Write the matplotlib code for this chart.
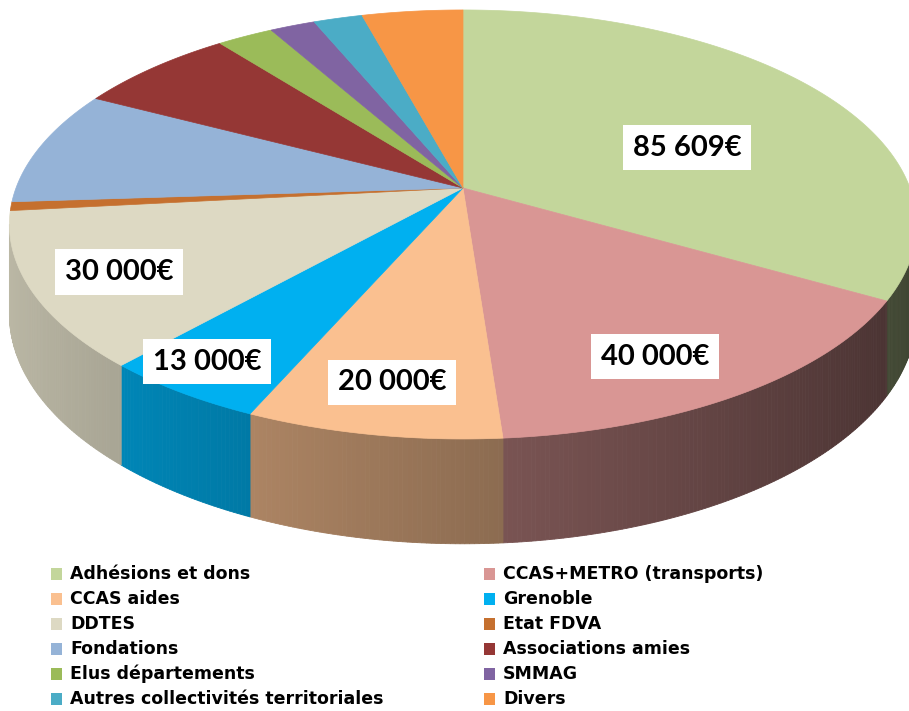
import numpy as np
import matplotlib
matplotlib.use("Agg")
import matplotlib.pyplot as plt
from matplotlib.patches import Polygon, Rectangle
from matplotlib.colors import to_rgb

# ---------------- data ----------------
categories = ["Adhésions et dons", "CCAS+METRO (transports)", "CCAS aides", "Grenoble",
              "DDTES", "Etat FDVA", "Fondations", "Associations amies",
              "Elus départements", "SMMAG", "Autres collectivités territoriales", "Divers"]
values = [85609, 40000, 20000, 13000, 30000, 1700, 22400, 17400, 6100, 4900, 5300, 10900]
show_label = [True, True, True, True, True, False, False, False, False, False, False, False]
colors = ["#C3D69B", "#D99694", "#FAC090", "#00B0F0", "#DDD9C3", "#C5702F",
          "#95B3D7", "#953735", "#9BBB59", "#8064A2", "#4BACC6", "#F79646"]

# ---------------- layout (pixel space) ----------------
W, Hfig = 909, 711
X0, Y0 = 463, 188        # projected pie centre
A, B = 447, 208.3        # horizontal / vertical radius
K = 0.17                 # perspective factor
DEPTH = 87               # wall height
label_r = [0.56, 0.80, 0.81, 0.88, 0.81]
label_dtheta = [-8, -4, 0, -2, 0]


def proj(theta_deg, r=1.0, down=0.0):
    t = np.radians(theta_deg)
    u, v = r * np.cos(t), r * np.sin(t)
    d = 1 + K * v
    return X0 + A * u / d, Y0 + (-B * v + down) / d


fig = plt.figure(figsize=(W / 100, Hfig / 100), dpi=100)
ax = fig.add_axes([0, 0, 1, 1])
ax.set_xlim(0, W)
ax.set_ylim(Hfig, 0)
ax.axis("off")

total = float(sum(values))
sweeps = [360.0 * v / total for v in values]
starts = 90.0 - np.concatenate([[0], np.cumsum(sweeps)[:-1]])
ends = starts - np.array(sweeps)


def shade(theta):
    return 0.58 + 0.27 * np.cos(np.radians(theta + 180))


# visible wall range (silhouette points of the perspective ellipse)
edge = np.degrees(np.arcsin(K))
vis_hi, vis_lo = -edge, -180.0 + edge

for s, e, c in zip(starts, ends, colors):
    hi, lo = min(s, vis_hi), max(e, vis_lo)
    if hi <= lo:
        continue
    n = max(2, int((hi - lo) / 0.5) + 1)
    th = np.linspace(hi, lo, n)
    base = np.array(to_rgb(c))
    for a0, a1 in zip(th[:-1], th[1:]):
        am = 0.5 * (a0 + a1)
        col = np.clip(base * shade(am), 0, 1)
        x0, y0 = proj(a0)
        x1, y1 = proj(a1)
        x2, y2 = proj(a1, down=DEPTH)
        x3, y3 = proj(a0, down=DEPTH)
        ax.add_patch(Polygon([(x0, y0), (x1, y1), (x2, y2), (x3, y3)], closed=True,
                             facecolor=col, edgecolor=col, linewidth=0.6))

# top faces
for s, e, c in zip(starts, ends, colors):
    n = max(3, int((s - e) / 0.5) + 2)
    th = np.linspace(s, e, n)
    xs, ys = proj(th)
    pts = [(X0, Y0)] + list(zip(xs, ys))
    ax.add_patch(Polygon(pts, closed=True, facecolor=c, edgecolor=c, linewidth=0.5))

# value labels
li = 0
for i, (s, e, v) in enumerate(zip(starts, ends, values)):
    if not show_label[i]:
        continue
    mid = 0.5 * (s + e) + label_dtheta[li]
    lx, ly = proj(mid, r=label_r[li])
    txt = f"{v:,}".replace(",", " ") + "€"
    ax.text(lx, ly + 2, txt, ha="center", va="center", fontsize=21, fontweight="bold",
            family=["Lato", "DejaVu Sans"], color="black",
            bbox=dict(boxstyle="square,pad=0.33", facecolor="white", edgecolor="none"))
    li += 1

# legend (two columns, row-wise)
col_x = [51, 484]
row_y0, row_dy = 574, 25
for i, (name, c) in enumerate(zip(categories, colors)):
    cx = col_x[i % 2]
    cy = row_y0 + row_dy * (i // 2)
    ax.add_patch(Rectangle((cx, cy - 6), 11, 12, facecolor=c, edgecolor="none"))
    ax.text(cx + 19, cy, name, ha="left", va="center", fontsize=12.5, fontweight="bold",
            family=["DejaVu Sans"], color="black")

fig.savefig("out.png", dpi=100)
